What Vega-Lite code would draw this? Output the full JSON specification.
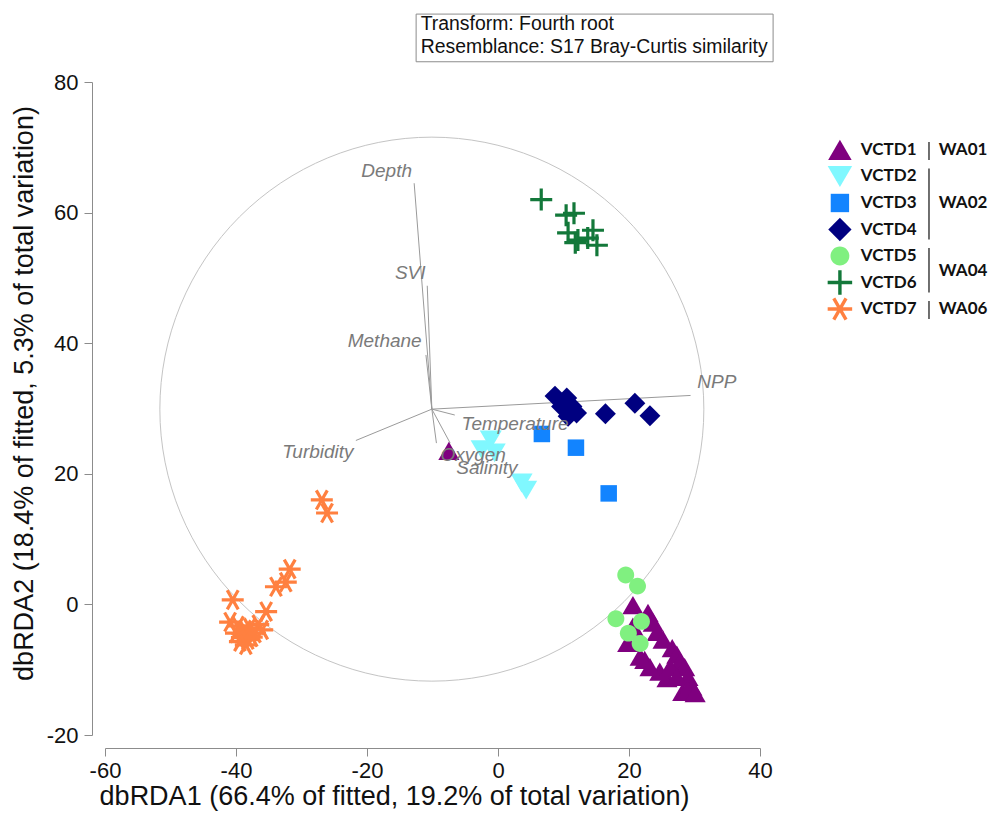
{
  "$schema": "https://vega.github.io/schema/vega-lite/v6.json",
  "width": 655,
  "height": 653,
  "autosize": {"type": "none"},
  "padding": {"left": 105, "top": 82, "right": 235, "bottom": 80},
  "background": "white",
  "config": {
    "view": {"stroke": null},
    "font": "Liberation Sans"
  },
  "datasets": {
    "points": [
      {"site": "VCTD1", "x": -7.5, "y": 23.5},
      {"site": "VCTD1", "x": 20.6, "y": -0.1},
      {"site": "VCTD1", "x": 22.9, "y": -1.3},
      {"site": "VCTD1", "x": 19.8, "y": -5.9},
      {"site": "VCTD1", "x": 22.4, "y": -8.5},
      {"site": "VCTD1", "x": 24.3, "y": -4.2},
      {"site": "VCTD1", "x": 25.2, "y": -5.4},
      {"site": "VCTD1", "x": 26.6, "y": -6.7},
      {"site": "VCTD1", "x": 27.3, "y": -7.7},
      {"site": "VCTD1", "x": 27.8, "y": -8.8},
      {"site": "VCTD1", "x": 28.5, "y": -9.6},
      {"site": "VCTD1", "x": 29.0, "y": -11.1},
      {"site": "VCTD1", "x": 29.6, "y": -12.6},
      {"site": "VCTD1", "x": 28.2, "y": -13.4},
      {"site": "VCTD1", "x": 25.8, "y": -11.3},
      {"site": "VCTD1", "x": 24.7, "y": -10.3},
      {"site": "VCTD1", "x": 23.2, "y": -9.6},
      {"site": "VCTD1", "x": 21.7, "y": -8.0},
      {"site": "VCTD1", "x": 20.6, "y": -3.4},
      {"site": "VCTD1", "x": 23.7, "y": -2.8},
      {"site": "VCTD1", "x": 26.3, "y": -9.6},
      {"site": "VCTD1", "x": 27.3, "y": -11.1},
      {"site": "VCTD1", "x": 28.9, "y": -13.1},
      {"site": "VCTD1", "x": 30.1, "y": -13.6},
      {"site": "VCTD2", "x": -1.1, "y": 25.2},
      {"site": "VCTD2", "x": -2.5, "y": 23.7},
      {"site": "VCTD2", "x": -0.5, "y": 23.2},
      {"site": "VCTD2", "x": 3.6, "y": 18.6},
      {"site": "VCTD2", "x": 4.3, "y": 17.5},
      {"site": "VCTD3", "x": 6.7, "y": 26.1},
      {"site": "VCTD3", "x": 11.9, "y": 24.0},
      {"site": "VCTD3", "x": 16.9, "y": 17.0},
      {"site": "VCTD4", "x": 8.7, "y": 31.9},
      {"site": "VCTD4", "x": 10.5, "y": 31.6},
      {"site": "VCTD4", "x": 11.3, "y": 30.3},
      {"site": "VCTD4", "x": 12.0, "y": 29.3},
      {"site": "VCTD4", "x": 10.7, "y": 28.8},
      {"site": "VCTD4", "x": 9.7, "y": 30.3},
      {"site": "VCTD4", "x": 16.4, "y": 29.2},
      {"site": "VCTD4", "x": 20.9, "y": 30.8},
      {"site": "VCTD4", "x": 23.2, "y": 28.9},
      {"site": "VCTD5", "x": 19.5, "y": 4.5},
      {"site": "VCTD5", "x": 21.3, "y": 2.8},
      {"site": "VCTD5", "x": 18.0, "y": -2.2},
      {"site": "VCTD5", "x": 21.9, "y": -2.6},
      {"site": "VCTD5", "x": 19.9, "y": -4.4},
      {"site": "VCTD5", "x": 21.7, "y": -6.0},
      {"site": "VCTD6", "x": 6.6, "y": 62.0},
      {"site": "VCTD6", "x": 10.4, "y": 59.6},
      {"site": "VCTD6", "x": 11.6, "y": 59.9},
      {"site": "VCTD6", "x": 10.7, "y": 56.9},
      {"site": "VCTD6", "x": 12.2, "y": 55.8},
      {"site": "VCTD6", "x": 14.5, "y": 57.3},
      {"site": "VCTD6", "x": 15.1, "y": 55.0},
      {"site": "VCTD6", "x": 13.7, "y": 56.1},
      {"site": "VCTD6", "x": 11.8, "y": 55.4},
      {"site": "VCTD7", "x": -26.9, "y": 16.0},
      {"site": "VCTD7", "x": -26.1, "y": 14.0},
      {"site": "VCTD7", "x": -31.8, "y": 5.4},
      {"site": "VCTD7", "x": -32.4, "y": 3.4},
      {"site": "VCTD7", "x": -33.9, "y": 2.7},
      {"site": "VCTD7", "x": -35.4, "y": -1.1},
      {"site": "VCTD7", "x": -40.5, "y": 0.7},
      {"site": "VCTD7", "x": -40.9, "y": -2.7},
      {"site": "VCTD7", "x": -39.7, "y": -3.3},
      {"site": "VCTD7", "x": -38.6, "y": -3.9},
      {"site": "VCTD7", "x": -37.9, "y": -3.6},
      {"site": "VCTD7", "x": -37.1, "y": -4.4},
      {"site": "VCTD7", "x": -39.1, "y": -5.1},
      {"site": "VCTD7", "x": -38.2, "y": -5.4},
      {"site": "VCTD7", "x": -40.0, "y": -4.4},
      {"site": "VCTD7", "x": -36.6, "y": -3.1},
      {"site": "VCTD7", "x": -37.6, "y": -5.0},
      {"site": "VCTD7", "x": -39.4, "y": -5.7},
      {"site": "VCTD7", "x": -38.5, "y": -6.2},
      {"site": "VCTD7", "x": -36.0, "y": -3.9}
    ],
    "origin": [
      {"x": -10.1, "y": 29.9}
    ],
    "vectors": [
      {"var": "Depth", "x": -12.8, "y": 64.5, "lx": -17.0, "ly": 66.4},
      {"var": "SVI", "x": -10.8, "y": 48.8, "lx": -13.4, "ly": 50.8},
      {"var": "Methane", "x": -11.0, "y": 38.2, "lx": -17.3, "ly": 40.4},
      {"var": "NPP", "x": 29.4, "y": 32.0, "lx": 33.4, "ly": 34.1},
      {"var": "Temperature", "x": -6.6, "y": 29.0, "lx": 2.6, "ly": 27.6},
      {"var": "Turbidity", "x": -21.7, "y": 25.1, "lx": -27.5, "ly": 23.4},
      {"var": "Oxygen", "x": -9.4, "y": 24.7, "lx": -3.8, "ly": 22.9},
      {"var": "Salinity", "x": -7.3, "y": 24.7, "lx": -1.7, "ly": 20.9}
    ],
    "frame": [
      {"x": -12.5, "x2": 42.0, "y": 90.4, "y2": 83.1}
    ],
    "notes": [
      {"text": "Transform: Fourth root", "x": -11.8, "y": 88.9},
      {"text": "Resemblance: S17 Bray-Curtis similarity", "x": -11.8, "y": 85.4}
    ],
    "legend": [
      {"site": "VCTD1"}, {"site": "VCTD2"}, {"site": "VCTD3"}, {"site": "VCTD4"},
      {"site": "VCTD5"}, {"site": "VCTD6"}, {"site": "VCTD7"}
    ],
    "groups": [
      {"group": "WA01", "first": "VCTD1", "last": "VCTD1", "at": "VCTD1", "between": false},
      {"group": "WA02", "first": "VCTD2", "last": "VCTD4", "at": "VCTD3", "between": false},
      {"group": "WA04", "first": "VCTD5", "last": "VCTD6", "at": "VCTD5", "between": true},
      {"group": "WA06", "first": "VCTD7", "last": "VCTD7", "at": "VCTD7", "between": false}
    ]
  },
  "layer": [
    {
      "encoding": {
        "x": {
          "field": "x", "type": "quantitative",
          "scale": {"domain": [-60, 40], "nice": false, "zero": false},
          "axis": {
            "title": "dbRDA1 (66.4% of fitted, 19.2% of total variation)",
            "values": [-60, -40, -20, 0, 20, 40],
            "labelExpr": "'' + datum.value",
            "labelFlush": false,
            "offset": 13, "grid": false,
            "domainColor": "#8c8c8c", "tickColor": "#8c8c8c", "tickSize": 8,
            "labelFontSize": 22, "labelColor": "#111", "labelFont": "Liberation Sans", "labelPadding": 4,
            "titleFontSize": 27, "titleFontWeight": "normal", "titleColor": "#111", "titleFont": "Liberation Sans",
            "titlePadding": 2, "titleX": 289
          }
        },
        "y": {
          "field": "y", "type": "quantitative",
          "scale": {"domain": [-20, 80], "nice": false, "zero": false},
          "axis": {
            "title": "dbRDA2 (18.4% of fitted, 5.3% of total variation)",
            "values": [-20, 0, 20, 40, 60, 80],
            "labelExpr": "'' + datum.value",
            "labelFlush": false,
            "offset": 13, "grid": false,
            "domainColor": "#8c8c8c", "tickColor": "#8c8c8c", "tickSize": 8,
            "labelFontSize": 22, "labelColor": "#111", "labelFont": "Liberation Sans", "labelPadding": 6,
            "titleFontSize": 27, "titleFontWeight": "normal", "titleColor": "#111", "titleFont": "Liberation Sans",
            "titlePadding": 8, "titleY": 311
          }
        }
      },
      "layer": [
        {
          "data": {"name": "origin"},
          "mark": {"type": "point", "shape": "circle", "size": 295936, "filled": false, "stroke": "#c4c4c4", "strokeWidth": 1, "opacity": 1}
        },
        {
          "data": {"name": "vectors"},
          "mark": {"type": "rule", "color": "#9a9a9a", "strokeWidth": 1},
          "encoding": {"x2": {"datum": -10.1}, "y2": {"datum": 29.9}}
        },
        {
          "data": {"name": "points"},
          "transform": [{"filter": {"field": "site", "oneOf": ["VCTD1", "VCTD2", "VCTD3", "VCTD4", "VCTD5"]}}],
          "mark": {"type": "point", "filled": true, "opacity": 1, "size": 484},
          "encoding": {
            "color": {"field": "site", "type": "nominal", "legend": null,
              "scale": {"domain": ["VCTD1", "VCTD2", "VCTD3", "VCTD4", "VCTD5", "VCTD6", "VCTD7"],
                        "range": ["#7f007f", "#80f8ff", "#1284ff", "#000080", "#80f080", "#13783a", "#ff8040"]}},
            "shape": {"field": "site", "type": "nominal", "legend": null,
              "scale": {"domain": ["VCTD1", "VCTD2", "VCTD3", "VCTD4", "VCTD5", "VCTD6", "VCTD7"],
                        "range": [
                          "M0,-0.83L0.96,0.83L-0.96,0.83Z",
                          "M0,0.86L1,-0.86L-1,-0.86Z",
                          "M-0.75,-0.75H0.75V0.75H-0.75Z",
                          "M0,-0.95L0.95,0L0,0.95L-0.95,0Z",
                          "M-0.77,0A0.77,0.77 0 1,0 0.77,0A0.77,0.77 0 1,0 -0.77,0Z",
                          "M-1,0H1M0,-1V1",
                          "M-1,0H1M-0.5,-0.866L0.5,0.866M-0.5,0.866L0.5,-0.866"
                        ]}}
          }
        },
        {
          "data": {"name": "points"},
          "transform": [{"filter": {"field": "site", "oneOf": ["VCTD6", "VCTD7"]}}],
          "mark": {"type": "point", "filled": false, "opacity": 1, "size": 484, "strokeWidth": 3.2},
          "encoding": {
            "color": {"field": "site", "type": "nominal", "legend": null},
            "shape": {"field": "site", "type": "nominal", "legend": null}
          }
        },
        {
          "data": {"name": "vectors"},
          "mark": {"type": "text", "font": "Liberation Sans", "fontStyle": "italic", "fontSize": 19, "color": "#7a7a7a", "align": "center", "baseline": "middle"},
          "encoding": {
            "x": {"field": "lx", "type": "quantitative"},
            "y": {"field": "ly", "type": "quantitative"},
            "text": {"field": "var"}
          }
        },
        {
          "data": {"name": "frame"},
          "mark": {"type": "rect", "fill": "white", "stroke": "#8c8c8c", "strokeWidth": 1},
          "encoding": {
            "x2": {"field": "x2"},
            "y2": {"field": "y2"}
          }
        },
        {
          "data": {"name": "notes"},
          "mark": {"type": "text", "font": "Liberation Sans", "fontSize": 19.4, "color": "#111", "align": "left", "baseline": "middle"},
          "encoding": {"text": {"field": "text"}}
        }
      ]
    },
    {
      "data": {"name": "legend"},
      "encoding": {
        "y": {
          "field": "site", "type": "nominal",
          "scale": {"type": "point", "domain": ["VCTD1", "VCTD2", "VCTD3", "VCTD4", "VCTD5", "VCTD6", "VCTD7"], "range": [54.7, 240.3]},
          "axis": null
        }
      },
      "layer": [
        {
          "transform": [{"filter": {"field": "site", "oneOf": ["VCTD1", "VCTD2", "VCTD3", "VCTD4", "VCTD5"]}}],
          "mark": {"type": "point", "filled": true, "opacity": 1, "size": 600},
          "encoding": {
            "x": {"datum": 52.2},
            "color": {"field": "site", "type": "nominal", "legend": null},
            "shape": {"field": "site", "type": "nominal", "legend": null}
          }
        },
        {
          "transform": [{"filter": {"field": "site", "oneOf": ["VCTD6", "VCTD7"]}}],
          "mark": {"type": "point", "filled": false, "opacity": 1, "size": 600, "strokeWidth": 3.4},
          "encoding": {
            "x": {"datum": 52.2},
            "color": {"field": "site", "type": "nominal", "legend": null},
            "shape": {"field": "site", "type": "nominal", "legend": null}
          }
        },
        {
          "mark": {"type": "text", "font": "Lato", "fontWeight": "bold", "fontSize": 17, "color": "#111", "align": "left", "baseline": "middle"},
          "encoding": {"x": {"datum": 55.4}, "text": {"field": "site"}}
        },
        {
          "data": {"name": "groups"},
          "mark": {"type": "rule", "color": "#222", "strokeWidth": 1.3, "yOffset": -8, "y2Offset": 10},
          "encoding": {
            "x": {"datum": 65.8},
            "y": {"field": "first", "type": "nominal"},
            "y2": {"field": "last"}
          }
        },
        {
          "data": {"name": "groups"},
          "transform": [{"filter": "!datum.between"}],
          "mark": {"type": "text", "font": "Lato", "fontWeight": "bold", "fontSize": 17, "color": "#111", "align": "left", "baseline": "middle"},
          "encoding": {"x": {"datum": 67.3}, "y": {"field": "at", "type": "nominal"}, "text": {"field": "group"}}
        },
        {
          "data": {"name": "groups"},
          "transform": [{"filter": "datum.between"}],
          "mark": {"type": "text", "font": "Lato", "fontWeight": "bold", "fontSize": 17, "color": "#111", "align": "left", "baseline": "middle", "dy": 15},
          "encoding": {"x": {"datum": 67.3}, "y": {"field": "at", "type": "nominal"}, "text": {"field": "group"}}
        }
      ]
    }
  ],
  "resolve": {"scale": {"y": "independent"}, "axis": {"y": "independent"}}
}
